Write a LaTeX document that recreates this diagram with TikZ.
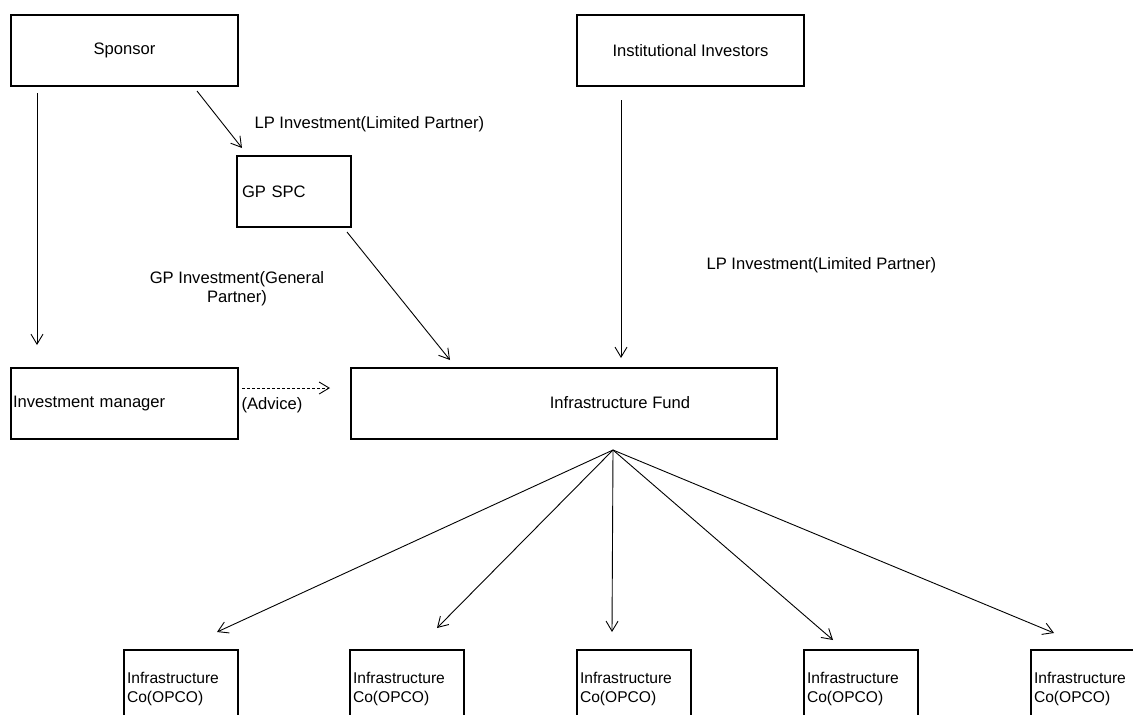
\documentclass[tikz,border=0pt]{standalone}
\usepackage{fontspec}
\setmainfont{Liberation Sans}
\usetikzlibrary{arrows.meta}

\begin{document}
\begin{tikzpicture}[x=1pt,y=-1pt,
  font=\fontsize{16.6}{19}\selectfont,
  box/.style={draw,line width=2.2pt,anchor=north west,inner sep=0pt,outer sep=0pt},
  opco/.style={box,minimum height=77pt,text width=108pt,align=left,inner xsep=3pt,font=\fontsize{15.6}{19}\selectfont},
  link/.style={-{Straight Barb[length=10pt,width=12pt]},line width=0.9pt}]
  % page frame, bottom row runs off the page
  \useasboundingbox (0,0) rectangle (1133,715);
  \clip (0,0) rectangle (1133,715);
  % top row
  \node[box,minimum width=227pt,minimum height=71pt] (sponsor) at (11,15) {Sponsor};
  \node[box,minimum width=227pt,minimum height=71pt] (inst) at (577,15) {Institutional Investors};
  \node[box,minimum height=71pt,text width=104pt,align=left,inner xsep=5pt] (gpspc) at (237,156) {GP SPC};
  % middle row
  \node[box,minimum height=71pt,text width=223pt,align=left,inner xsep=2pt] (invmgr) at (11,368) {Investment manager};
  \node[box,minimum width=426pt,minimum height=71pt] (fund) at (351,368) {};
  \node (fundlbl) at ([shift={(56,-1)}]fund.center) {Infrastructure Fund};
  % bottom row
  \foreach \i/\x in {1/124,2/350,3/577,4/804,5/1031}
    \node[opco] (opco\i) at (\x,650) {Infrastructure\\Co(OPCO)};
  % connectors
  \draw[link] ([shift={(26,7)}]sponsor.south west) -- ([shift={(26,-23)}]invmgr.north west);
  \draw[link] ([shift={(186,5)}]sponsor.south west) -- ([shift={(5,-8)}]gpspc.north west);
  \draw[link] ([shift={(44,14)}]inst.south west) -- ([shift={(270,-10)}]fund.north west);
  \draw[link] ([shift={(-4,5)}]gpspc.south east) -- ([shift={(99,-8)}]fund.north west);
  \draw[link,dashed,dash pattern=on 3pt off 2pt] ([shift={(4,20)}]invmgr.north east) -- ([shift={(-21,20)}]fund.north west);
  \foreach \i/\dx/\dy in {1/93/-18,2/87/-22,3/35/-18,4/29/-10,5/23/-17}
    \draw[link] ([shift={(49,11)}]fund.south) -- ([shift={(\dx,\dy)}]opco\i.north west);
  % labels
  \node[anchor=west] (lpspon) at (251,124) {LP Investment(Limited Partner)};
  \node[align=center] (gplbl) at (237,289) {GP Investment(General\\Partner)};
  \node[anchor=west] (lpinst) at (703,265) {LP Investment(Limited Partner)};
  \node[anchor=west] (advlbl) at (238,405) {(Advice)};
\end{tikzpicture}
\end{document}
